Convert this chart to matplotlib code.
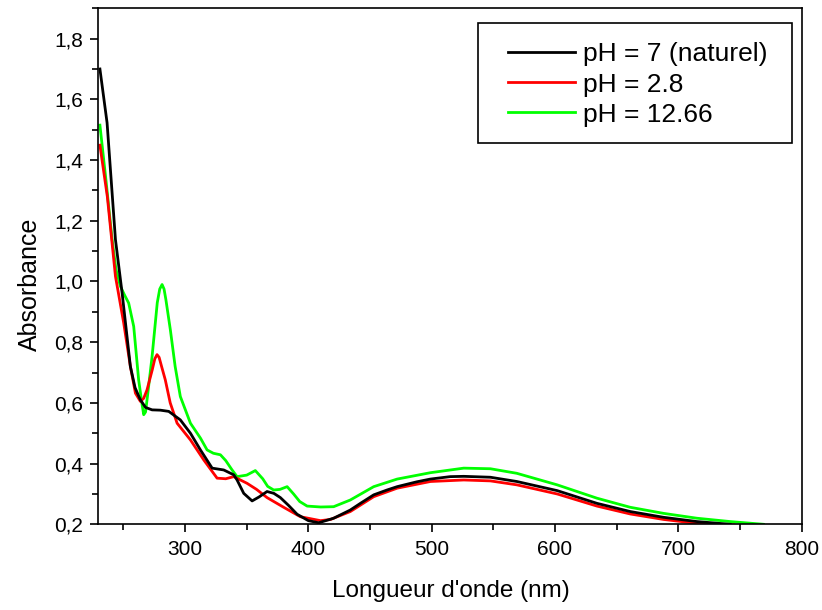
import matplotlib
matplotlib.use("Agg")
import matplotlib.pyplot as plt
from matplotlib.patches import Rectangle
from matplotlib.ticker import MultipleLocator, FuncFormatter

plt.rcParams['font.family'] = ['Liberation Sans', 'DejaVu Sans']

# Traced spectra (wavelength nm, absorbance)
wl_black = [231, 236.8, 243.6, 249, 255.7, 259.5, 263.8, 268, 273.3, 280, 286.8, 296.2, 304.4, 312.5,
            322, 331.4, 339.5, 342.2, 347.6, 354.4, 360, 366.5, 372, 377.3, 384, 390.9, 400, 408.4,
            420.5, 434, 442.2, 453, 463.8, 472, 488, 499, 515, 526, 547.6, 569,
            601.7, 634, 661, 688, 715, 742]
ab_black = [1.70, 1.523, 1.138, 0.962, 0.72, 0.65, 0.61, 0.585, 0.577, 0.576, 0.572, 0.544, 0.50, 0.445,
            0.385, 0.379, 0.363, 0.346, 0.302, 0.277, 0.29, 0.308, 0.302, 0.288, 0.262, 0.233, 0.212, 0.205,
            0.22, 0.247, 0.269, 0.297, 0.313, 0.324, 0.34, 0.349, 0.357, 0.358, 0.355, 0.341,
            0.311, 0.269, 0.242, 0.223, 0.209, 0.2]

wl_red = [231, 237, 243.6, 250.3, 255.7, 259.8, 263.8, 266.5, 269.2, 273.5, 275.5, 277.3, 279, 281, 284,
          288, 293.6, 304.4, 315.2, 326, 333, 339.5, 350.3, 358, 366.5, 380, 393.5, 409.8,
          418, 434, 453, 472, 499, 526, 547.6, 569, 601.7, 634, 661, 688, 715, 745]
ab_red = [1.449, 1.28, 1.017, 0.863, 0.72, 0.632, 0.605, 0.615, 0.643, 0.71, 0.745, 0.759, 0.75, 0.72, 0.676,
          0.60, 0.533, 0.478, 0.412, 0.352, 0.35, 0.357, 0.335, 0.315, 0.288, 0.256, 0.225, 0.212,
          0.216, 0.242, 0.291, 0.319, 0.341, 0.346, 0.343, 0.33, 0.30, 0.26, 0.234, 0.216, 0.203, 0.198]

wl_green = [231, 236, 240.9, 244, 247.6, 251, 254.3, 258.4, 262.4, 265, 266.5, 268, 269.5, 273.3,
            277.5, 279.5, 281.4, 283, 284.5, 288.1, 292, 296.2, 304.4, 312.5, 317.9, 323, 328.7, 333,
            338, 342.2, 350, 357, 363, 367, 371.9, 377, 382.8, 388, 393, 399, 410, 420.5, 434,
            453, 472, 499, 526, 547.6, 569, 601.7, 634, 661, 688, 715, 742, 769]
ab_green = [1.515, 1.33, 1.138, 1.04, 0.984, 0.955, 0.929, 0.852, 0.676, 0.60, 0.561, 0.57, 0.62, 0.753,
            0.93, 0.975, 0.99, 0.975, 0.94, 0.841, 0.72, 0.621, 0.533, 0.484, 0.445, 0.434, 0.429, 0.41,
            0.38, 0.357, 0.362, 0.377, 0.35, 0.325, 0.313, 0.315, 0.324, 0.30, 0.275, 0.26, 0.257, 0.258, 0.28,
            0.324, 0.349, 0.37, 0.385, 0.383, 0.368, 0.33, 0.286, 0.256, 0.236, 0.22, 0.209, 0.2]

labels = ['pH = 7 (naturel)', 'pH = 2.8', 'pH = 12.66']
colors = ['#000000', '#ff0000', '#00ff00']

W, H = 822, 610
fig = plt.figure(figsize=(W / 100, H / 100), dpi=100)
ax = fig.add_axes([0.1196, 0.1405, 0.8557, 0.8459])

ax.plot(wl_black, ab_black, color=colors[0], lw=2.0, label=labels[0], zorder=3)
ax.plot(wl_red, ab_red, color=colors[1], lw=2.0, label=labels[1], zorder=2)
ax.plot(wl_green, ab_green, color=colors[2], lw=2.0, label=labels[2], zorder=1)

ax.set_xlim(229.7, 800)
ax.set_ylim(0.2, 1.9)

ax.xaxis.set_major_locator(MultipleLocator(100))
ax.xaxis.set_minor_locator(MultipleLocator(50))
ax.yaxis.set_major_locator(MultipleLocator(0.2))
ax.yaxis.set_minor_locator(MultipleLocator(0.1))
ax.yaxis.set_major_formatter(FuncFormatter(lambda v, p: f"{v:.1f}".replace('.', ',')))

ax.tick_params(axis='both', which='major', direction='out', length=6, width=1.2,
               labelsize=15, top=False, right=False, pad=5)
ax.tick_params(axis='both', which='minor', direction='out', length=4, width=1.2,
               top=False, right=False)
for s in ax.spines.values():
    s.set_linewidth(1.2)

ax.set_xlabel("Longueur d'onde (nm)", fontsize=17.5)
ax.set_ylabel("Absorbance", fontsize=18)
ax.xaxis.set_label_coords(0.501, -0.108)
ax.yaxis.set_label_coords(-0.080, 0.465)

# Legend entries (frameless), with a separate box drawn around them
leg = ax.legend(loc='upper left', bbox_to_anchor=(508 / W, 1 - 42.5 / H),
                bbox_transform=fig.transFigure, fontsize=19, frameon=False,
                handlelength=2.54, labelspacing=0.23, borderpad=0,
                handletextpad=0.3, borderaxespad=0)
fig.patches.append(Rectangle((478.3 / W, 1 - 143.3 / H), (791.7 - 478.3) / W,
                             (143.3 - 22.7) / H, transform=fig.transFigure,
                             fill=False, edgecolor='black', lw=1.2, zorder=5))

fig.savefig('out.png', dpi=100)
